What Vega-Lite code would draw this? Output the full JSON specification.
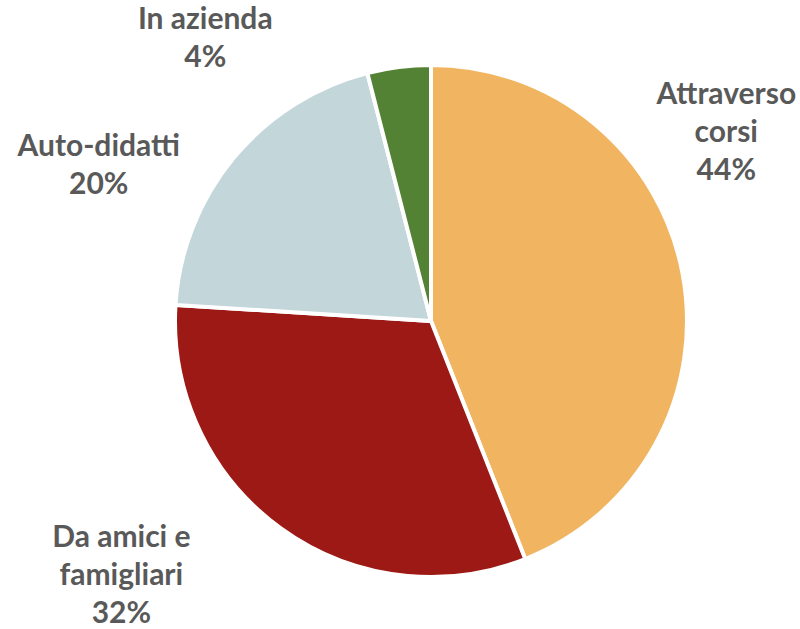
{
  "$schema": "https://vega.github.io/schema/vega-lite/v6.json",
  "width": 738,
  "height": 616,
  "autosize": {"type": "none"},
  "padding": {"left": 62, "top": 13, "right": 0, "bottom": 0},
  "background": "white",
  "view": {"stroke": null},
  "data": {
    "values": [
      {"category": "Attraverso corsi", "pct": 44},
      {"category": "Da amici e famigliari", "pct": 32},
      {"category": "Auto-didatti", "pct": 20},
      {"category": "In azienda", "pct": 4}
    ]
  },
  "transform": [
    {"stack": "pct", "groupby": [], "as": ["t0", "t1"]},
    {"calculate": "(datum.t0 + datum.t1) / 2", "as": "mid"}
  ],
  "layer": [
    {
      "mark": {"type": "arc", "radius": 256, "stroke": "white", "strokeWidth": 4},
      "encoding": {
        "theta": {"field": "t0", "type": "quantitative", "scale": {"domain": [0, 100]}},
        "theta2": {"field": "t1"},
        "color": {
          "field": "category",
          "type": "nominal",
          "scale": {
            "domain": ["Attraverso corsi", "Da amici e famigliari", "Auto-didatti", "In azienda"],
            "range": ["#F1B562", "#9C1915", "#C3D6DA", "#548235"]
          },
          "legend": null
        }
      }
    },
    {
      "transform": [
        {"filter": "datum.category === 'Attraverso corsi'"},
        {"calculate": "['Attraverso', 'corsi', datum.pct + '%']", "as": "lbl"}
      ],
      "mark": {"type": "text", "radius": 372, "thetaOffset": -0.4653, "font": "Lato", "fontWeight": "bold", "fontSize": 30, "lineHeight": 38, "color": "#595959", "align": "center", "baseline": "middle"},
      "encoding": {
        "theta": {"field": "mid", "type": "quantitative", "scale": {"domain": [0, 100]}},
        "text": {"field": "lbl"}
      }
    },
    {
      "transform": [
        {"filter": "datum.category === 'Da amici e famigliari'"},
        {"calculate": "['Da amici e', 'famigliari', datum.pct + '%']", "as": "lbl"}
      ],
      "mark": {"type": "text", "radius": 378, "thetaOffset": 0.3316, "font": "Lato", "fontWeight": "bold", "fontSize": 30, "lineHeight": 38, "color": "#595959", "align": "center", "baseline": "middle"},
      "encoding": {
        "theta": {"field": "mid", "type": "quantitative", "scale": {"domain": [0, 100]}},
        "text": {"field": "lbl"}
      }
    },
    {
      "transform": [
        {"filter": "datum.category === 'Auto-didatti'"},
        {"calculate": "['Auto-didatti', datum.pct + '%']", "as": "lbl"}
      ],
      "mark": {"type": "text", "radius": 375, "thetaOffset": -0.2091, "font": "Lato", "fontWeight": "bold", "fontSize": 30, "lineHeight": 38, "color": "#595959", "align": "center", "baseline": "middle"},
      "encoding": {
        "theta": {"field": "mid", "type": "quantitative", "scale": {"domain": [0, 100]}},
        "text": {"field": "lbl"}
      }
    },
    {
      "transform": [
        {"filter": "datum.category === 'In azienda'"},
        {"calculate": "['In azienda', datum.pct + '%']", "as": "lbl"}
      ],
      "mark": {"type": "text", "radius": 376, "thetaOffset": -0.5183, "font": "Lato", "fontWeight": "bold", "fontSize": 30, "lineHeight": 38, "color": "#595959", "align": "center", "baseline": "middle"},
      "encoding": {
        "theta": {"field": "mid", "type": "quantitative", "scale": {"domain": [0, 100]}},
        "text": {"field": "lbl"}
      }
    }
  ]
}
